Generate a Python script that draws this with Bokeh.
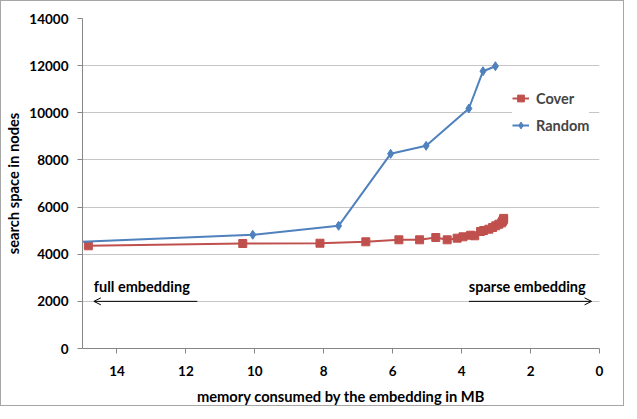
from bokeh.plotting import figure
from bokeh.models import Range1d, FixedTicker, Legend, LegendItem, Label, Arrow, OpenHead
from bokeh.embed import file_html
from bokeh.resources import INLINE

# ---- data ----
cover_mb = [14.83, 10.35, 8.11, 6.78, 5.82, 5.22, 4.75, 4.42, 4.13, 3.96, 3.74, 3.62,
            3.45, 3.36, 3.21, 3.10, 3.01, 2.92, 2.84, 2.81, 2.79, 2.78]
cover_nodes = [4357, 4454, 4467, 4527, 4611, 4611, 4709, 4611, 4680, 4739, 4807, 4781,
               4964, 5006, 5061, 5133, 5205, 5273, 5330, 5400, 5460, 5520]
random_mb = [15.3, 10.06, 7.57, 6.06, 5.03, 3.79, 3.38, 3.02]
random_nodes = [4510, 4824, 5205, 8260, 8600, 10182, 11764, 11976]
x_ticks = [0, 2, 4, 6, 8, 10, 12, 14]
y_ticks = [0, 2000, 4000, 6000, 8000, 10000, 12000, 14000]

FONT = "Lato"
RED = "#C0504D"
BLUE = "#4F81BD"

p = figure(width=624, height=406, output_backend="svg", toolbar_location=None,
           x_range=Range1d(15, 0), y_range=Range1d(0, 14000),
           min_border_left=80, min_border_right=26, min_border_top=17, min_border_bottom=58)
p.styles = {"border": "1px solid #a6a6a6", "box-sizing": "border-box"}
p.outline_line_color = None
p.background_fill_color = "white"
p.border_fill_color = "white"

p.xgrid.grid_line_color = None
p.ygrid.grid_line_color = "#c6c6c6"
p.ygrid.grid_line_width = 1
p.ygrid.ticker = FixedTicker(ticks=y_ticks)

for ax in (p.xaxis[0], p.yaxis[0]):
    ax.axis_line_color = "#868686"
    ax.major_tick_line_color = "#868686"
    ax.minor_tick_line_color = None
    ax.major_tick_in = 0
    ax.major_tick_out = 5
    ax.major_label_text_font = FONT
    ax.major_label_text_font_style = "bold"
    ax.major_label_text_font_size = "13.5px"
    ax.major_label_text_color = "black"
    ax.axis_label_text_font = FONT
    ax.axis_label_text_font_style = "bold"
    ax.axis_label_text_font_size = "14.7px"
    ax.axis_label_text_color = "black"

p.xaxis.ticker = FixedTicker(ticks=x_ticks)
p.yaxis.ticker = FixedTicker(ticks=y_ticks)
p.xaxis.axis_label = "memory consumed by the embedding in MB"
p.yaxis.axis_label = "search space in nodes"
p.xaxis.major_label_standoff = 12
p.yaxis.major_label_standoff = 9
p.xaxis.axis_label_standoff = 8
p.yaxis.axis_label_standoff = 4

cl = p.line(cover_mb, cover_nodes, line_color=RED, line_width=2)
cs = p.scatter(cover_mb, cover_nodes, marker="square", size=8, fill_color=RED, line_color=RED)
rl = p.line(random_mb, random_nodes, line_color=BLUE, line_width=2)
rs = p.scatter(random_mb, random_nodes, marker="diamond", size=9, fill_color=BLUE, line_color=BLUE)

legend = Legend(items=[LegendItem(label="Cover", renderers=[cl, cs]),
                       LegendItem(label="Random", renderers=[rl, rs])],
                location=(430, 213), padding=7, spacing=7, margin=0,
                glyph_width=17, glyph_height=20, label_standoff=7,
                label_text_font=FONT, label_text_font_style="bold",
                label_text_font_size="14.5px", border_line_color=None,
                background_fill_color="white", background_fill_alpha=1)
p.add_layout(legend)

# annotations
p.add_layout(Arrow(end=OpenHead(size=7, line_width=1, line_color="black"),
                   x_start=11.67, y_start=2000, x_end=14.67, y_end=2000,
                   line_color="black", line_width=1))
p.add_layout(Arrow(end=OpenHead(size=7, line_width=1, line_color="black"),
                   x_start=3.79, y_start=2000, x_end=0.23, y_end=2000,
                   line_color="black", line_width=1))
p.add_layout(Label(x=14.67, y=2250, text="full embedding", text_font=FONT,
                   text_font_style="bold", text_font_size="14.5px", text_color="black"))
p.add_layout(Label(x=3.79, y=2250, text="sparse embedding", text_font=FONT,
                   text_font_style="bold", text_font_size="14.5px", text_color="black"))

open("out.html", "w").write(file_html(p, INLINE))
